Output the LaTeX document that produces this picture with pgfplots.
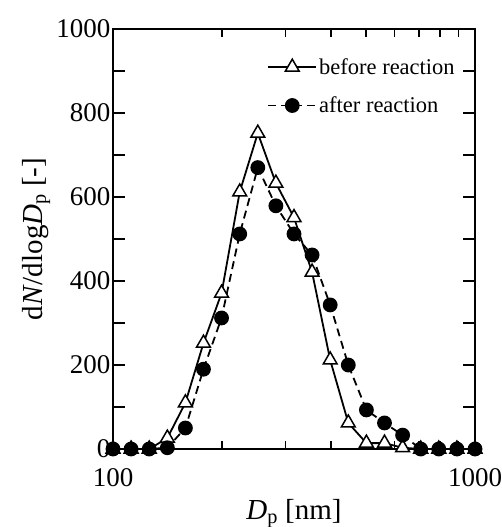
\documentclass[border=0pt]{standalone}
\usepackage{fontspec}
\setmainfont{Liberation Serif}
\usepackage{pgfplots}
\pgfplotsset{compat=1.18}

% size distributions, x = 100*10^(k/20)
\pgfplotstableread{
Dp      before  after
100.0   0       0
112.2   0       0
125.9   0       0
141.3   26      3
158.5   110     50
177.8   252     190
199.5   371     312
223.9   612     512
251.2   752     670
281.8   633     579
316.2   551     512
354.8   421     462
398.1   212     343
446.7   62      200
501.2   14      93
562.3   14      62
631.0   3       33
707.9   0       0
794.3   0       0
891.3   0       0
1000.0  0       0
}\psd

\begin{document}
\begin{tikzpicture}
\path[use as bounding box] (-113pt,-78pt) rectangle (389pt,449pt);
\begin{axis}[
  xmode=log,
  scale only axis,
  width=362pt, height=420pt,
  xmin=100, xmax=1000,
  ymin=0, ymax=1000,
  xtick={100,1000},
  xticklabels={100,1000},
  ytick={0,100,...,1000},
  yticklabels={0,,200,,400,,600,,800,,1000},
  tick align=inside,
  xtick pos=both, ytick pos=both,
  xticklabel pos=lower, yticklabel pos=left,
  major tick length=12pt,
  minor tick length=8pt,
  axis line style={line width=1.6pt},
  every tick/.style={black, line width=1.3pt},
  tick label style={font=\fontsize{27}{30}\selectfont, inner sep=2.5pt},
  /pgf/number format/assume math mode=true,
  xticklabel style={yshift=-17pt},
  xlabel={\textit{D}\textsubscript{p} [nm]},
  ylabel={d\textit{N}/dlog\textit{D}\textsubscript{p} [-]},
  label style={font=\fontsize{29}{32}\selectfont},
  xlabel style={at={(axis description cs:0.5,-0.169)}, anchor=base},
  ylabel style={at={(axis description cs:-0.196,0.5)}, anchor=base, rotate=0},
  legend style={draw=none, fill=none, at={(0.95,0.935)}, anchor=north east,
    font=\fontsize{22.5}{26}\selectfont, row sep=17pt, inner sep=0pt},
  legend cell align=left,
  legend image code/.code={%
    \draw[mark repeat=2, mark phase=2, #1] plot coordinates {(0pt,0pt) (24pt,0pt) (48pt,0pt)};},
]
\addplot[black, line width=1.8pt, mark=triangle*, mark size=8pt,
  mark options={fill=white, solid, line width=1.5pt}] table[x=Dp, y=before] {\psd};
\addlegendentry{before reaction}
\addplot[black, line width=1.8pt, dash pattern=on 8pt off 5pt, mark=*, mark size=6.5pt,
  mark options={fill=black, solid}] table[x=Dp, y=after] {\psd};
\addlegendentry{after reaction}
\end{axis}
\end{tikzpicture}
\end{document}
